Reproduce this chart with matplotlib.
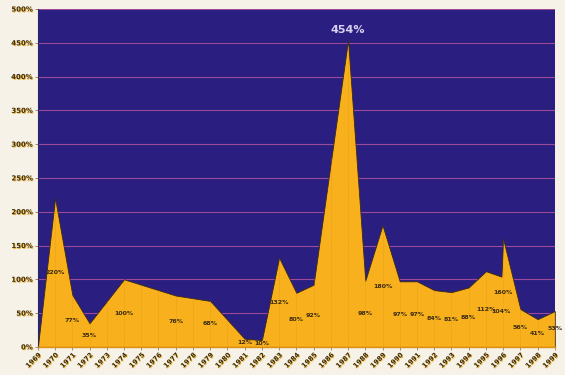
import matplotlib
matplotlib.use("Agg")
import matplotlib.pyplot as plt
import matplotlib.patheffects as pe

# Data
years = [1969, 1970, 1971, 1972, 1974, 1977, 1979, 1981, 1982, 1983, 1984, 1985,
         1987, 1988, 1989, 1990, 1991, 1992, 1993, 1994, 1995, 1995.9, 1996,
         1997, 1998, 1999]
values = [0, 220, 77, 35, 100, 76, 68, 12, 10, 132, 80, 92,
          454, 98, 180, 97, 97, 84, 81, 88, 112, 104, 160,
          56, 41, 53]
value_labels = ["", "220%", "77%", "35%", "100%", "76%", "68%", "12%", "10%", "132%", "80%", "92%",
                "454%", "98%", "180%", "97%", "97%", "84%", "81%", "88%", "112%", "104%", "160%",
                "56%", "41%", "53%"]
tick_years = list(range(1969, 2000))
y_ticks = list(range(0, 501, 50))
y_tick_labels = [f"{v}%" for v in y_ticks]

NAVY = "#2a1f80"
ORANGE = "#f8b01c"
GRID = "#9a4a98"
BG = "#f6f2e8"
TXT = "#3c2c10"

fig = plt.figure(figsize=(5.65, 3.75), dpi=100, facecolor=BG)
ax = fig.add_axes([0.067, 0.075, 0.915, 0.901])
ax.set_facecolor(NAVY)

ax.set_xlim(1969, 1999)
ax.set_ylim(0, 500)

# horizontal gridlines
for v in y_ticks[1:]:
    ax.axhline(v, color=GRID, lw=0.8, zorder=1)

area = ax.fill_between(years, values, 0, color=ORANGE, lw=0.6, edgecolor="#3a2a10", zorder=2)

# vertical dotted gridlines, visible only inside the filled area
for yr in tick_years[1:]:
    ln = ax.axvline(yr, color="#c88a10", lw=0.5, ls=(0, (1, 2)), zorder=3, alpha=0.8)
    ln.set_clip_path(area.get_paths()[0], area.get_transform())

shadow = [pe.withSimplePatchShadow(offset=(0.6, -0.6), shadow_rgbFace="#f0b428", alpha=1.0)]

for x, v, lab in zip(years, values, value_labels):
    if not lab:
        continue
    if v == max(values):
        ax.annotate(lab, (x, v), xytext=(0, 4), textcoords="offset points",
                    ha="center", va="bottom", fontsize=8, fontweight="bold",
                    color="#d8d0f0", zorder=5)
    else:
        ax.text(x, v / 2, lab, ha="center", va="center", fontsize=4.5,
                fontweight="bold", color=TXT, zorder=5)

ax.set_yticks(y_ticks)
ax.set_yticklabels(y_tick_labels, fontsize=5, fontweight="bold", color=TXT)
for t in ax.get_yticklabels():
    t.set_path_effects(shadow)
ax.set_xticks(tick_years)
ax.set_xticklabels([str(y) for y in tick_years], rotation=45, ha="right",
                   rotation_mode="anchor", fontsize=4.8, fontweight="bold", color=TXT)
for t in ax.get_xticklabels():
    t.set_path_effects(shadow)
ax.tick_params(axis="both", length=2, width=0.5, color="#806040", pad=1.5)

for s in ["top", "right"]:
    ax.spines[s].set_visible(False)
ax.spines["left"].set_color("#2a2a60")
ax.spines["left"].set_linewidth(0.8)
ax.spines["bottom"].set_color("#e09010")
ax.spines["bottom"].set_linewidth(1.0)

fig.savefig("out.png", dpi=100, facecolor=BG)
